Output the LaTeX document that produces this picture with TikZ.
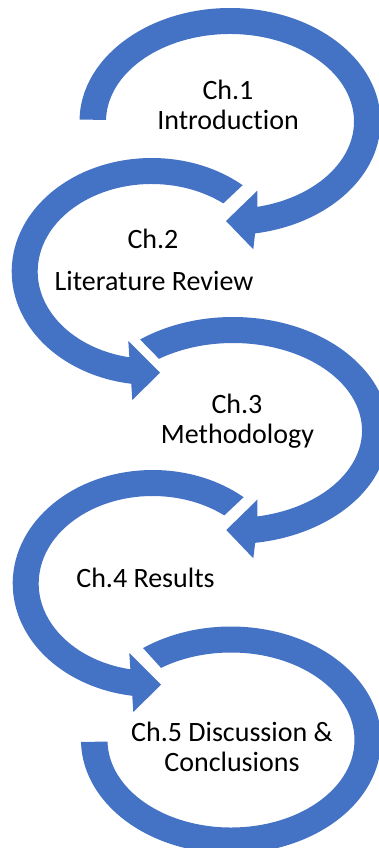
\documentclass[tikz,border=0pt]{standalone}
\usepackage{fontspec}
\setmainfont{Carlito}[Ligatures=CommonOff]
\usetikzlibrary{calc}
\definecolor{ringblue}{RGB}{68,114,196}
\begin{document}
\begin{tikzpicture}[x=1pt,y=-1pt,
  ring/.style={fill=ringblue, draw=none},
  chlabel/.style={anchor=base, inner sep=0pt, font=\fontsize{28}{30}\selectfont}]
\clip (0,0) rectangle (379,848);
% centres of the five curved arrows
\coordinate (c1) at (230,121.5);
\coordinate (c2) at (151.7,271.5);
\coordinate (c3) at (233,430.5);
\coordinate (c4) at (152.7,583.5);
\coordinate (c5) at (231,740);
% Ch.1: clockwise from the left, head at the bottom pointing left
\fill[ring] ($(c1)+(181:150.5 and 113.5)$)
  arc[start angle=181, end angle=440.4, x radius=150.5, y radius=113.5]
  -- (253.3,249.3) -- (226,221) -- (257.3,190.7)
  -- ($(c1)+(437.3:124 and 87.5)$)
  arc[start angle=437.3, end angle=181, x radius=124, y radius=87.5] -- cycle;
% Ch.2: anticlockwise from the top right, head pointing right
\fill[ring] ($(c2)+(310.5:140 and 113.5)$)
  arc[start angle=310.5, end angle=98.4, x radius=140, y radius=113.5]
  -- (132.3,400) -- (160,372.7) -- (128.3,341)
  -- ($(c2)+(101.3:114 and 87.5)$)
  arc[start angle=101.3, end angle=308.9, x radius=114, y radius=87.5] -- cycle;
% Ch.3
\fill[ring] ($(c3)+(233.3:155.5 and 113.5)$)
  arc[start angle=233.3, end angle=441.8, x radius=155.5, y radius=113.5]
  -- (253.3,558.3) -- (226.3,530) -- (257.5,499.5)
  -- ($(c3)+(439.1:129 and 87.5)$)
  arc[start angle=439.1, end angle=235, x radius=129, y radius=87.5] -- cycle;
% Ch.4
\fill[ring] ($(c4)+(310.5:140 and 113.5)$)
  arc[start angle=310.5, end angle=98.4, x radius=140, y radius=113.5]
  -- (133.3,712) -- (161,684.7) -- (129.3,653)
  -- ($(c4)+(101.3:114 and 87.5)$)
  arc[start angle=101.3, end angle=308.9, x radius=114, y radius=87.5] -- cycle;
% Ch.5: open ring ending flat on the left, no head
\fill[ring] ($(c5)+(234.1:150 and 113.5)$)
  arc[start angle=234.1, end angle=539, x radius=150, y radius=113.5]
  -- ($(c5)+(539:123.5 and 87.5)$)
  arc[start angle=539, end angle=235.5, x radius=123.5, y radius=87.5] -- cycle;
% chapter titles
\node[chlabel] (t1a) at (228,100) {Ch.1};
\node[chlabel] (t1b) at (228,130) {Introduction};
\node[chlabel] (t2a) at (153,248.3) {Ch.2};
\node[chlabel] (t2b) at (154,290) {Literature Review};
\node[chlabel] (t3a) at (237,413.3) {Ch.3};
\node[chlabel] (t3b) at (237.5,443.3) {Methodology};
\node[chlabel] (t4) at (145.5,587.3) {Ch.4 Results};
\node[chlabel] (t5a) at (232,741.7) {Ch.5 Discussion \&};
\node[chlabel] (t5b) at (232,771.7) {Conclusions};
\end{tikzpicture}
\end{document}
